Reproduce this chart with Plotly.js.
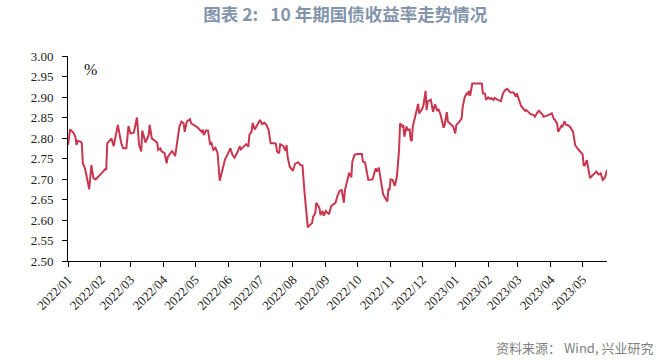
<!DOCTYPE html>
<html>
<head>
<meta charset="utf-8">
<script src="https://cdn.plot.ly/plotly-3.0.1.min.js"></script>
<style>
html,body{margin:0;padding:0;background:#fff;}
#chart{width:659px;height:360px;}
</style>
</head>
<body>
<div id="chart"></div>
<script>
// 10-year government bond yield (%)
const dates = [
"2022-01-01","2022-01-03","2022-01-06","2022-01-08","2022-01-09","2022-01-10","2022-01-13","2022-01-14","2022-01-15","2022-01-17",
"2022-01-21","2022-01-23","2022-01-25","2022-01-27","2022-02-02","2022-02-05","2022-02-06","2022-02-07","2022-02-11","2022-02-13",
"2022-02-17","2022-02-20","2022-02-22","2022-02-25","2022-02-27","2022-03-01","2022-03-04","2022-03-07","2022-03-09","2022-03-11",
"2022-03-12","2022-03-15","2022-03-18","2022-03-19","2022-03-21","2022-03-26","2022-03-27","2022-03-29","2022-03-30","2022-04-02",
"2022-04-04","2022-04-05","2022-04-09","2022-04-10","2022-04-12","2022-04-14","2022-04-16","2022-04-18","2022-04-20","2022-04-21",
"2022-04-23","2022-04-26","2022-04-27","2022-05-03","2022-05-07","2022-05-08","2022-05-09","2022-05-11","2022-05-13","2022-05-15",
"2022-05-16","2022-05-18","2022-05-20","2022-05-22","2022-05-24","2022-05-25","2022-05-27","2022-05-29","2022-06-01","2022-06-03",
"2022-06-05","2022-06-07","2022-06-10","2022-06-12","2022-06-13","2022-06-15","2022-06-18","2022-06-20","2022-06-21","2022-06-23",
"2022-06-24","2022-06-26","2022-06-29","2022-07-01","2022-07-03","2022-07-05","2022-07-07","2022-07-09","2022-07-11","2022-07-15",
"2022-07-16","2022-07-17","2022-07-19","2022-07-20","2022-07-23","2022-07-25","2022-07-26","2022-07-27","2022-07-29","2022-08-01",
"2022-08-03","2022-08-06","2022-08-08","2022-08-10","2022-08-12","2022-08-15","2022-08-17","2022-08-19","2022-08-20","2022-08-22",
"2022-08-23","2022-08-26","2022-08-27","2022-08-29","2022-08-30","2022-09-01","2022-09-04","2022-09-06","2022-09-08","2022-09-10",
"2022-09-12","2022-09-14","2022-09-16","2022-09-18","2022-09-19","2022-09-22","2022-09-23","2022-09-25","2022-09-26","2022-09-28",
"2022-10-01","2022-10-05","2022-10-06","2022-10-08","2022-10-10","2022-10-11","2022-10-15","2022-10-18","2022-10-19","2022-10-21",
"2022-10-22","2022-10-25","2022-10-27","2022-10-29","2022-10-30","2022-10-31","2022-11-01","2022-11-03","2022-11-05","2022-11-07",
"2022-11-09","2022-11-10","2022-11-12","2022-11-13","2022-11-14","2022-11-16","2022-11-17","2022-11-19","2022-11-20","2022-11-21",
"2022-11-22","2022-11-24","2022-11-27","2022-11-28","2022-12-01","2022-12-02","2022-12-04","2022-12-05","2022-12-06","2022-12-09",
"2022-12-11","2022-12-13","2022-12-15","2022-12-16","2022-12-18","2022-12-21","2022-12-22","2022-12-24","2022-12-25","2022-12-28",
"2022-12-30","2023-01-01","2023-01-02","2023-01-05","2023-01-07","2023-01-08","2023-01-10","2023-01-12","2023-01-13","2023-01-14",
"2023-01-15","2023-01-17","2023-01-24","2023-01-26","2023-01-27","2023-01-29","2023-01-30","2023-02-01","2023-02-03","2023-02-04",
"2023-02-06","2023-02-07","2023-02-10","2023-02-13","2023-02-15","2023-02-17","2023-02-19","2023-02-22","2023-02-25","2023-02-27",
"2023-02-28","2023-03-02","2023-03-04","2023-03-06","2023-03-08","2023-03-09","2023-03-12","2023-03-13","2023-03-16","2023-03-17",
"2023-03-20","2023-03-21","2023-03-24","2023-03-25","2023-03-28","2023-03-31","2023-04-02","2023-04-04","2023-04-05","2023-04-07",
"2023-04-08","2023-04-11","2023-04-12","2023-04-14","2023-04-15","2023-04-18","2023-04-20","2023-04-22","2023-04-24","2023-04-26",
"2023-04-29","2023-05-01","2023-05-02","2023-05-03","2023-05-05","2023-05-06","2023-05-08","2023-05-10","2023-05-12","2023-05-14",
"2023-05-16","2023-05-18","2023-05-20","2023-05-22","2023-05-24"
];
const yields = [
2.783,2.821,2.813,2.803,2.783,2.793,2.791,2.787,2.738,2.726,
2.675,2.734,2.702,2.699,2.715,2.724,2.722,2.787,2.799,2.780,
2.832,2.789,2.775,2.775,2.829,2.811,2.813,2.850,2.783,2.767,
2.818,2.789,2.807,2.832,2.799,2.789,2.771,2.775,2.768,2.763,
2.738,2.754,2.768,2.765,2.756,2.795,2.828,2.840,2.836,2.815,
2.840,2.846,2.836,2.826,2.815,2.820,2.807,2.818,2.818,2.783,
2.790,2.771,2.776,2.763,2.696,2.706,2.726,2.748,2.763,2.775,
2.759,2.752,2.767,2.780,2.772,2.777,2.785,2.779,2.808,2.815,
2.837,2.821,2.834,2.844,2.834,2.837,2.832,2.820,2.787,2.787,
2.785,2.767,2.763,2.785,2.780,2.769,2.783,2.754,2.730,2.720,
2.737,2.741,2.734,2.733,2.665,2.582,2.588,2.592,2.608,2.616,
2.642,2.629,2.612,2.622,2.610,2.622,2.614,2.634,2.638,2.641,
2.659,2.671,2.673,2.642,2.673,2.702,2.715,2.704,2.742,2.759,
2.761,2.761,2.742,2.740,2.714,2.698,2.699,2.726,2.718,2.728,
2.710,2.663,2.653,2.645,2.677,2.672,2.699,2.698,2.683,2.706,
2.771,2.836,2.828,2.832,2.803,2.828,2.820,2.821,2.795,2.793,
2.828,2.848,2.883,2.860,2.872,2.880,2.915,2.868,2.889,2.893,
2.864,2.882,2.866,2.871,2.858,2.825,2.832,2.863,2.840,2.833,
2.828,2.811,2.832,2.840,2.848,2.876,2.901,2.909,2.905,2.915,
2.903,2.933,2.933,2.933,2.909,2.908,2.893,2.899,2.895,2.897,
2.893,2.898,2.893,2.890,2.909,2.917,2.920,2.911,2.911,2.901,
2.909,2.893,2.878,2.872,2.866,2.868,2.860,2.858,2.856,2.852,
2.864,2.866,2.858,2.852,2.854,2.858,2.860,2.846,2.844,2.835,
2.815,2.830,2.828,2.841,2.833,2.830,2.824,2.815,2.783,2.775,
2.767,2.760,2.734,2.733,2.746,2.730,2.702,2.708,2.714,2.718,
2.711,2.714,2.698,2.703,2.722
];
const titleText = "图表 2:\u00a0\u00a0 10 年期国债收益率走势情况";
const sourceText = "资料来源：\u00a0Wind, 兴业研究";
const unitText = "%";

const serif = "Liberation Serif";
const cjk = "Noto Sans CJK SC";

const trace = {
  x: dates, y: yields, type: "scatter", mode: "lines",
  line: {color: "#c8374f", width: 2},
  hoverinfo: "skip"
};

const layout = {
  width: 659, height: 360,
  margin: {l: 68, r: 52, t: 56, b: 99, pad: 0},
  paper_bgcolor: "#ffffff", plot_bgcolor: "#ffffff",
  showlegend: false,
  title: {
    text: "<b>" + titleText + "</b>",
    font: {family: cjk, size: 17.5, color: "#8394ab"},
    xref: "container", x: 0.524, xanchor: "center",
    yref: "container", y: 0.958, yanchor: "middle"
  },
  xaxis: {
    type: "date",
    range: ["2022-01-01", "2023-05-24"],
    tick0: "2022-01-01", dtick: "M1", tickformat: "%Y/%m",
    tickangle: -45,
    ticks: "outside", ticklen: 5, tickcolor: "#000", tickwidth: 1,
    showline: true, linecolor: "#000", linewidth: 1,
    showgrid: false, zeroline: false,
    tickfont: {family: serif, size: 13, color: "#222"}
  },
  yaxis: {
    range: [2.5, 3.0], dtick: 0.05, tick0: 2.5, tickformat: ".2f",
    ticks: "outside", ticklen: 5, tickcolor: "#000", tickwidth: 1,
    ticklabelstandoff: 6,
    showline: true, linecolor: "#000", linewidth: 1,
    showgrid: false, zeroline: false,
    tickfont: {family: serif, size: 13, color: "#222"}
  },
  annotations: [
    {text: unitText, xref: "paper", yref: "paper", x: 0.041, y: 0.932,
     xanchor: "center", yanchor: "middle", showarrow: false,
     font: {family: serif, size: 16, color: "#111"}},
    {text: sourceText, xref: "paper", yref: "paper", x: 1.089, y: -0.424,
     xanchor: "right", yanchor: "middle", showarrow: false,
     font: {family: cjk, size: 13, color: "#7f7f7f"}}
  ]
};

Plotly.newPlot("chart", [trace], layout, {staticPlot: true, displayModeBar: false});
</script>
</body>
</html>
